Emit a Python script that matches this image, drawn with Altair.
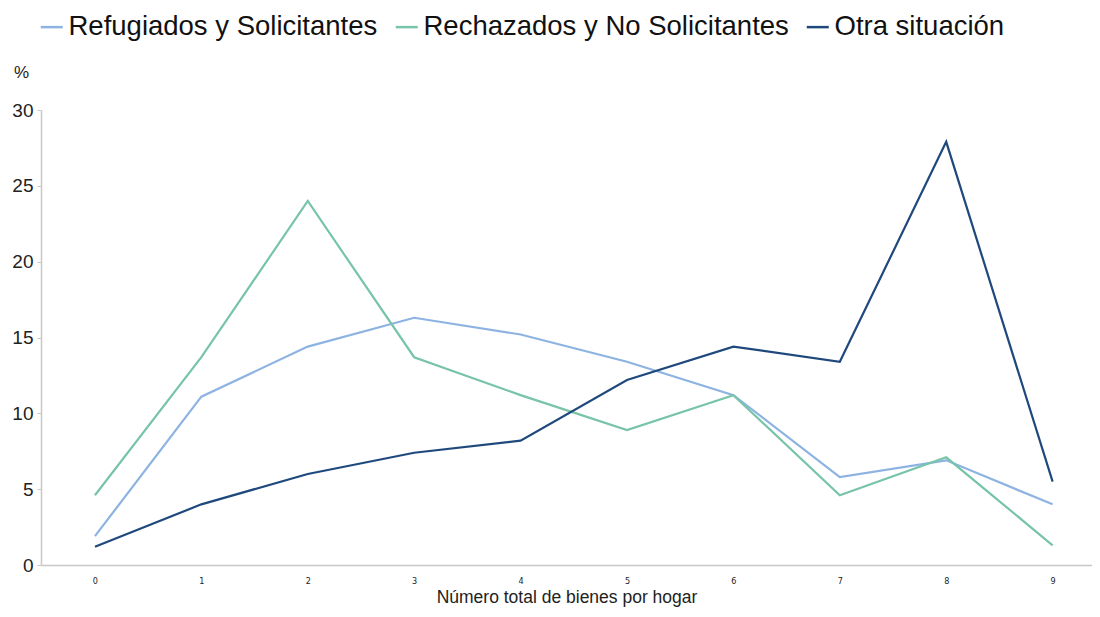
import altair as alt
import pandas as pd

categories = [0, 1, 2, 3, 4, 5, 6, 7, 8, 9]
series_names = ["Refugiados y Solicitantes", "Rechazados y No Solicitantes", "Otra situación"]
refugiados = [1.9, 11.1, 14.4, 16.3, 15.2, 13.4, 11.2, 5.8, 6.9, 4.0]
rechazados = [4.6, 13.7, 24.0, 13.7, 11.2, 8.9, 11.2, 4.6, 7.1, 1.3]
otra = [1.2, 4.0, 6.0, 7.4, 8.2, 12.2, 14.4, 13.4, 27.9, 5.5]
colors = ["#8DB3E2", "#77C4A8", "#1F497D"]

rows = []
for name, vals in zip(series_names, [refugiados, rechazados, otra]):
    for c, v in zip(categories, vals):
        rows.append({"bienes": c, "valor": v, "serie": name})
df = pd.DataFrame(rows)

FONT = "Liberation Sans"

chart = alt.Chart(df).mark_line(strokeWidth=2.2).encode(
    x=alt.X("bienes:Q",
            scale=alt.Scale(domain=[-0.507, 9.37], nice=False, zero=False),
            axis=alt.Axis(values=categories, format="d", title="Número total de bienes por hogar",
                          grid=False, ticks=False, domainColor="#c8c8c8", domainWidth=1.5,
                          labelFontSize=9, labelFont="DejaVu Sans Condensed", labelColor="#222",
                          labelPadding=11, titleFontSize=17.5, titleFont=FONT, titleFontWeight="normal",
                          titleColor="#222", titlePadding=3)),
    y=alt.Y("valor:Q",
            scale=alt.Scale(domain=[0, 30], nice=False),
            axis=alt.Axis(values=[0, 5, 10, 15, 20, 25, 30], title="%", titleAngle=0,
                          titleX=-20, titleY=-38, titleAlign="center", titleBaseline="middle",
                          titleFontSize=17, titleFont=FONT, titleFontWeight="normal", titleColor="#222",
                          grid=False, tickSize=4, tickColor="#c8c8c8", domainColor="#c8c8c8",
                          domainWidth=1.5, labelFontSize=19, labelFont=FONT, labelColor="#222",
                          labelPadding=4)),
    color=alt.Color("serie:N", sort=series_names,
                    scale=alt.Scale(domain=series_names, range=colors),
                    legend=alt.Legend(title=None, orient="none", direction="horizontal",
                                      legendX=-3, legendY=-97, symbolType="stroke",
                                      symbolSize=484, symbolStrokeWidth=2.5, labelFontSize=27.5,
                                      labelFont=FONT, labelColor="#111", labelOffset=3,
                                      columnPadding=12, labelLimit=600)),
).properties(
    width=1051, height=455,
    padding={"left": 33, "top": 102, "right": 0, "bottom": 44},
    autosize=alt.AutoSizeParams(type="none"),
).configure_view(stroke=None)

chart.save("out.html", embed_options={"renderer": "svg", "actions": False})
